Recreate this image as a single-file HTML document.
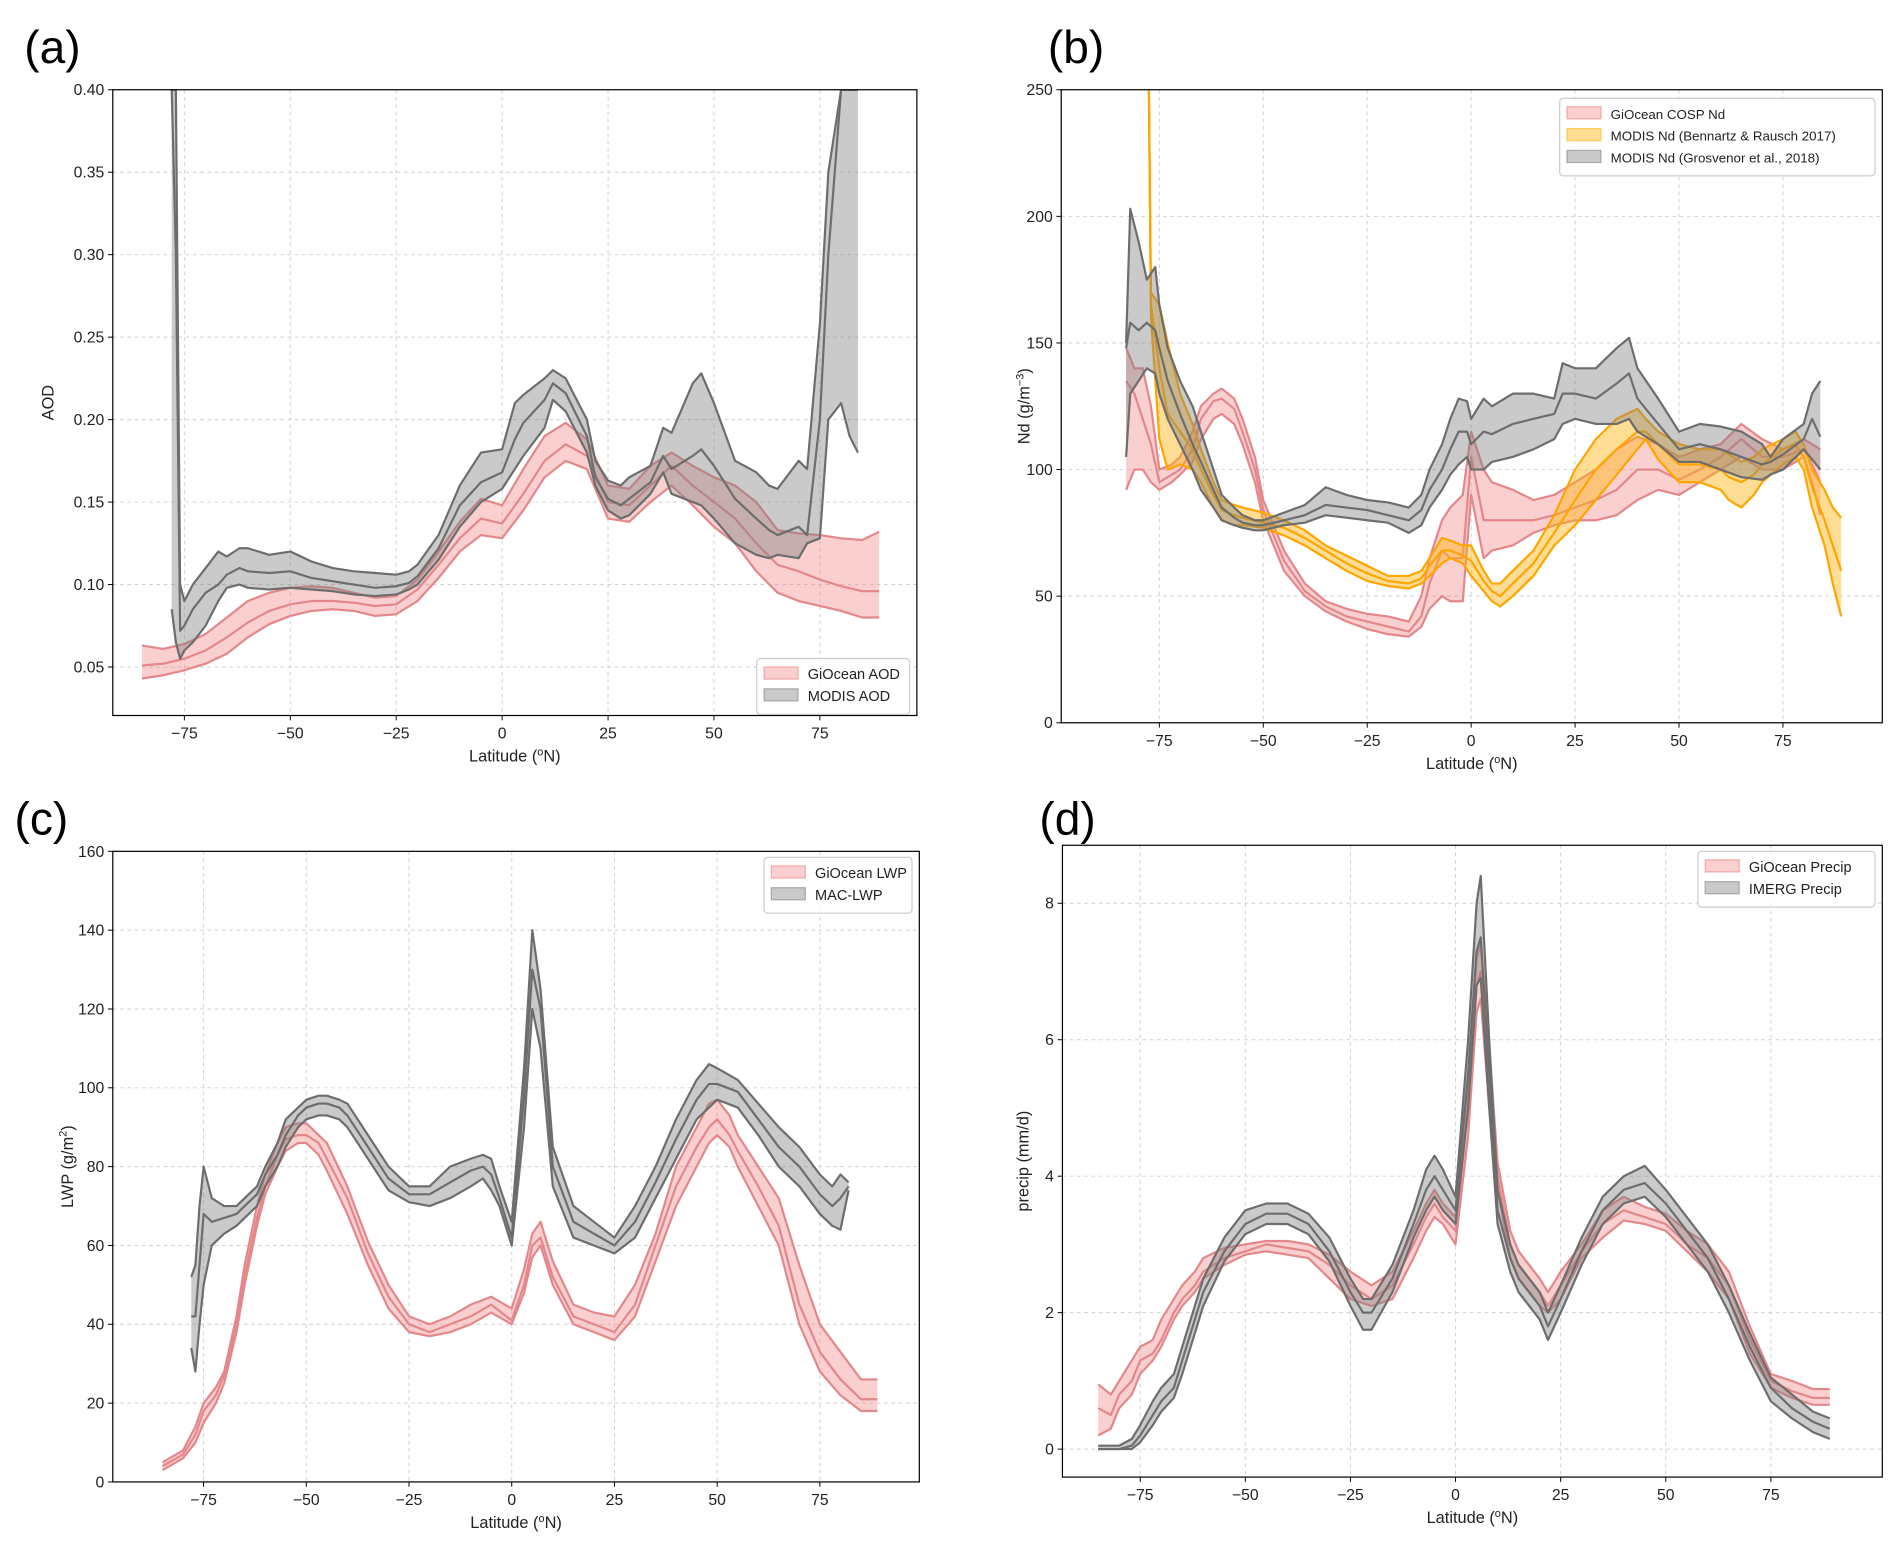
<!DOCTYPE html>
<html><head><meta charset="utf-8">
<style>
html,body{margin:0;padding:0;background:#fff;}
svg{display:block;font-family:"Liberation Sans","DejaVu Sans",sans-serif;}
</style></head>
<body>
<svg id="fig" width="1892" height="1545" viewBox="0 0 1560 1274" preserveAspectRatio="none" xmlns="http://www.w3.org/2000/svg">
<rect width="1560" height="1274" fill="#fff"/>
</svg>
<script>
// ---------- Panel (a) data ----------
const aTicksY = [0.05,0.10,0.15,0.20,0.25,0.30,0.35,0.40];
const aTickLabY = ["0.05","0.10","0.15","0.20","0.25","0.30","0.35","0.40"];
const latTicks = [-75,-50,-25,0,25,50,75];
const latTickLab = ["\u221275","\u221250","\u221225","0","25","50","75"];
const aGiLat = [-85,-80,-75,-70,-65,-60,-55,-50,-45,-40,-35,-30,-25,-20,-15,-10,-5,0,5,10,15,20,25,30,35,40,45,50,55,60,65,70,75,80,85,89];
const aGiMid = [.051,.052,.055,.060,.068,.077,.084,.088,.090,.090,.089,.087,.088,.097,.112,.128,.140,.137,.155,.175,.185,.178,.150,.148,.160,.172,.160,.150,.140,.125,.112,.108,.103,.099,.096,.096];
const aGiLo = [.043,.045,.048,.052,.058,.068,.076,.081,.084,.085,.084,.081,.082,.090,.104,.120,.130,.128,.145,.165,.175,.170,.140,.138,.150,.160,.148,.135,.125,.108,.095,.090,.087,.084,.080,.080];
const aGiHi = [.063,.061,.064,.070,.080,.090,.095,.098,.099,.098,.095,.092,.093,.103,.120,.138,.152,.148,.170,.190,.198,.188,.160,.158,.172,.180,.172,.165,.160,.150,.133,.131,.130,.128,.127,.132];
const aMoLat = [-78,-77,-76,-75,-73,-70,-67,-65,-62,-60,-55,-50,-45,-40,-35,-30,-25,-22,-20,-15,-10,-5,0,3,5,10,12,15,20,22,25,28,30,35,38,40,45,47,50,55,60,63,65,70,72,75,77,80,82,84];
const aMoMid = [.40,.30,.072,.075,.085,.095,.100,.106,.110,.108,.107,.108,.104,.102,.100,.098,.099,.101,.105,.122,.148,.162,.168,.188,.198,.212,.222,.216,.190,.165,.152,.148,.152,.162,.178,.170,.178,.182,.172,.152,.140,.133,.130,.135,.130,.200,.30,.40,.40,.40];
const aMoLo = [.085,.065,.055,.060,.065,.075,.090,.098,.100,.098,.097,.098,.097,.096,.094,.093,.094,.097,.100,.115,.135,.150,.158,.170,.178,.195,.212,.205,.180,.160,.145,.140,.142,.155,.168,.155,.150,.148,.140,.125,.118,.116,.118,.116,.125,.128,.200,.210,.190,.180];
const aMoHi = [.40,.40,.100,.090,.100,.110,.120,.117,.122,.122,.118,.120,.114,.110,.108,.107,.106,.108,.112,.130,.160,.180,.182,.210,.215,.225,.230,.225,.200,.175,.163,.160,.165,.172,.195,.192,.222,.228,.210,.175,.168,.160,.158,.175,.170,.258,.350,.400,.400,.400];

// ---------- Panel (b) data ----------
const bTicksY = [0,50,100,150,200,250];
const bGiLat = [-83,-81,-79,-77,-75,-72,-70,-67,-65,-62,-60,-57,-55,-52,-50,-45,-40,-35,-30,-25,-20,-15,-12,-10,-7,-5,-2,0,3,5,10,15,20,25,30,35,40,45,50,55,60,65,70,75,80,82,84];
const bGiMid = [135,130,120,110,95,98,100,108,120,127,128,124,115,100,84,64,52,46,42,40,38,36,42,55,68,65,65,105,80,80,80,80,82,85,88,92,100,100,96,100,105,112,105,105,108,102,95];
const bGiLo = [92,100,100,95,92,95,98,103,112,120,122,118,110,95,80,60,50,44,40,37,35,34,38,45,50,48,48,90,65,68,70,75,78,80,80,82,88,92,90,95,100,105,100,100,105,95,82];
const bGiHi = [148,140,140,125,100,102,105,115,125,130,132,128,120,105,88,68,55,48,45,43,42,40,50,65,80,85,90,115,100,95,92,88,90,95,100,108,113,110,105,108,110,118,112,108,112,110,108];
const bBrLat = [-77.5,-77,-75,-73,-70,-67,-65,-62,-60,-57,-55,-50,-45,-40,-35,-30,-25,-20,-15,-12,-10,-7,-5,-2,0,3,5,7,10,15,20,25,30,35,40,42,45,50,55,60,62,65,68,70,75,78,80,82,85,87,89];
const bBrMid = [250,165,140,122,115,108,100,90,84,82,81,79,77,73,68,63,59,56,55,57,62,68,68,66,64,56,52,50,55,63,75,88,100,108,115,115,110,102,102,100,97,95,98,102,108,110,105,93,80,70,60];
const bBrLo = [250,160,112,100,102,100,95,85,80,78,78,77,74,70,65,60,56,54,53,55,58,63,65,63,58,52,48,46,50,58,70,78,88,98,108,112,104,95,95,92,88,85,90,95,102,105,100,85,70,55,42];
const bBrHi = [250,170,165,150,130,118,108,95,88,86,85,83,80,76,70,66,62,58,58,60,65,73,72,70,70,60,55,55,60,68,82,100,112,120,124,120,115,110,108,108,106,103,105,108,112,115,110,100,92,85,81];
const bGrLat = [-83,-82,-80,-78,-76,-75,-73,-70,-67,-65,-62,-60,-57,-55,-52,-50,-45,-40,-35,-30,-25,-20,-15,-12,-10,-7,-5,-3,-1,0,3,5,10,15,20,22,25,30,35,38,40,45,50,55,60,65,70,72,75,80,82,84];
const bGrMid = [148,158,155,158,155,148,135,122,110,103,92,85,81,79,78,78,80,82,86,85,84,82,80,84,92,100,108,115,115,110,115,114,118,120,122,130,130,128,134,138,128,118,108,110,108,105,102,103,106,112,120,113];
const bGrLo = [105,130,135,140,138,130,120,110,100,92,85,80,78,77,76,76,78,79,82,81,80,79,75,78,85,92,98,102,105,100,100,103,105,108,112,118,120,118,118,120,115,110,103,103,100,97,96,98,100,108,104,100];
const bGrHi = [150,203,190,175,180,165,148,135,125,115,100,90,85,82,80,80,83,86,93,90,88,87,85,90,100,110,120,128,127,120,128,125,130,130,128,142,140,140,148,152,140,128,115,118,117,115,110,105,112,118,130,135];

// ---------- Panel (c) data ----------
const cTicksY = [0,20,40,60,80,100,120,140,160];
const cGiLat = [-85,-80,-77,-75,-72,-70,-67,-65,-62,-60,-57,-55,-52,-50,-47,-45,-40,-35,-30,-25,-20,-15,-10,-5,0,3,5,7,10,15,20,25,30,35,40,45,48,50,53,55,60,65,70,75,80,85,89];
const cGiMid = [4,7,12,18,22,27,40,52,67,75,83,87,88,88,86,82,72,58,47,40,38,40,42,45,41,50,60,62,52,42,40,38,45,60,75,85,90,92,88,84,75,65,45,33,26,21,21];
const cGiLo = [3,6,10,15,20,25,38,50,65,73,80,84,86,86,83,79,68,55,44,38,37,38,40,43,40,48,57,60,50,40,38,36,42,56,70,80,86,88,85,80,70,60,40,28,22,18,18];
const cGiHi = [5,8,14,20,24,28,42,55,70,78,86,90,91,91,88,86,75,61,50,42,40,42,45,47,44,54,63,66,56,45,43,42,50,63,80,90,96,97,93,88,80,72,55,40,33,26,26];
const cMaLat = [-78,-77,-76,-75,-73,-70,-67,-65,-62,-60,-57,-55,-52,-50,-47,-45,-42,-40,-35,-30,-25,-20,-15,-10,-7,-5,-3,0,3,5,7,10,15,20,25,30,35,40,45,48,50,55,60,65,70,75,78,80,82];
const cMaMid = [42,42,55,68,66,67,68,70,73,78,83,88,93,95,96,96,95,93,85,77,73,73,76,79,80,78,72,62,98,130,120,80,66,63,60,66,76,87,97,101,101,99,92,85,80,73,70,72,75];
const cMaLo = [34,28,40,50,60,63,65,67,70,75,80,85,90,92,93,93,92,90,82,74,71,70,72,75,77,74,70,60,90,120,110,75,62,60,58,62,72,82,92,95,97,95,88,80,75,68,65,64,74];
const cMaHi = [52,55,70,80,72,70,70,72,75,80,86,92,95,97,98,98,97,96,88,80,75,75,80,82,83,82,75,66,105,140,125,85,70,66,62,70,80,92,102,106,105,102,96,90,85,78,75,78,76];

// ---------- Panel (d) data ----------
const dTicksY = [0,2,4,6,8];
const dGiLat = [-85,-82,-80,-77,-75,-72,-70,-67,-65,-62,-60,-55,-50,-45,-40,-35,-30,-25,-20,-15,-10,-7,-5,-3,0,3,5,6,8,10,13,15,20,22,25,30,35,40,45,50,55,60,65,70,75,80,85,89];
const dGiMid = [0.6,0.5,0.8,1.0,1.3,1.4,1.6,2.0,2.2,2.4,2.6,2.8,2.9,3.0,2.95,2.9,2.7,2.4,2.2,2.4,3.0,3.4,3.6,3.4,3.2,5.0,6.8,7.0,5.5,4.0,3.0,2.7,2.3,2.1,2.4,2.9,3.3,3.5,3.4,3.3,3.0,2.8,2.4,1.6,1.0,0.85,0.75,0.75];
const dGiLo = [0.2,0.3,0.6,0.8,1.1,1.3,1.5,1.9,2.1,2.3,2.5,2.7,2.85,2.9,2.85,2.8,2.5,2.2,2.1,2.2,2.8,3.2,3.4,3.3,3.0,4.6,6.4,6.6,5.0,3.8,2.8,2.5,2.1,2.0,2.2,2.8,3.1,3.35,3.3,3.2,2.9,2.6,2.2,1.4,0.9,0.75,0.65,0.65];
const dGiHi = [0.95,0.8,1.0,1.3,1.5,1.6,1.9,2.2,2.4,2.6,2.8,2.95,3.0,3.05,3.05,3.0,2.85,2.6,2.4,2.6,3.2,3.6,3.8,3.6,3.4,5.4,7.2,7.4,5.9,4.2,3.2,2.9,2.5,2.3,2.6,3.0,3.5,3.7,3.55,3.45,3.2,3.0,2.6,1.8,1.1,1.0,0.88,0.88];
const dImLat = [-85,-80,-77,-75,-72,-70,-67,-65,-62,-60,-55,-50,-45,-40,-35,-30,-25,-22,-20,-15,-10,-7,-5,-3,0,3,5,6,8,10,13,15,20,22,25,30,35,40,45,50,55,60,65,70,75,80,85,89];
const dImMid = [0,0,0.05,0.2,0.5,0.7,0.9,1.3,1.9,2.3,2.9,3.3,3.45,3.45,3.3,2.9,2.3,2.0,2.0,2.5,3.3,3.8,4.0,3.8,3.5,5.5,7.3,7.5,5.5,3.5,2.8,2.5,2.1,1.8,2.2,2.9,3.5,3.8,3.9,3.6,3.2,2.8,2.2,1.5,0.9,0.6,0.4,0.3];
const dImLo = [0,0,0,0.1,0.35,0.55,0.75,1.1,1.7,2.1,2.75,3.15,3.3,3.3,3.15,2.75,2.1,1.75,1.75,2.3,3.1,3.5,3.7,3.5,3.3,5.0,6.8,6.9,5.0,3.3,2.6,2.3,1.9,1.6,2.0,2.7,3.3,3.6,3.7,3.4,3.0,2.6,2.0,1.3,0.7,0.45,0.25,0.15];
const dImHi = [0.05,0.05,0.15,0.35,0.7,0.9,1.1,1.5,2.1,2.5,3.1,3.5,3.6,3.6,3.45,3.1,2.5,2.2,2.2,2.7,3.5,4.1,4.3,4.1,3.7,6.0,8.0,8.4,6.0,3.8,3.0,2.7,2.3,2.0,2.4,3.1,3.7,4.0,4.15,3.8,3.4,3.0,2.4,1.7,1.05,0.8,0.55,0.45];

// ---------- drawing ----------
const NS = "http://www.w3.org/2000/svg";
const svg = document.getElementById("fig");
const PINK = {line:"#e3878b", fill:"rgba(240,128,128,0.38)"};
const GRAY = {line:"#6d6d6d", fill:"rgba(128,128,128,0.42)"};
const ORNG = {line:"#ffa500", fill:"rgba(255,180,20,0.45)"};

function mk(tag, attrs, parent){
  const e = document.createElementNS(NS, tag);
  for (const k in attrs) e.setAttribute(k, attrs[k]);
  (parent || svg).appendChild(e);
  return e;
}

function makePanel(cfg){
  const g = mk("g", {});
  
  
  const sx = v => cfg.L + (v - cfg.x0) / (cfg.x1 - cfg.x0) * (cfg.R - cfg.L);
  const sy = v => cfg.B - (v - cfg.y0) / (cfg.y1 - cfg.y0) * (cfg.B - cfg.T);
  const clipId = "clip-" + cfg.name;
  const cp = mk("clipPath", {id: clipId}, g);
  mk("rect", {x: cfg.L, y: cfg.T, width: cfg.R - cfg.L, height: cfg.B - cfg.T}, cp);

  const lab = mk("text", {x: cfg.labX, y: cfg.labY, "font-size": 38, fill: "#000"}, g);
  lab.textContent = cfg.letter;
  
  

  cfg.yTicks.forEach((v, i) => {
    const y = sy(v);
    const gl = mk("line", {x1: cfg.L, x2: cfg.R, y1: y, y2: y, stroke: "#d0d0d0", "stroke-width": 0.8, "stroke-dasharray": "3,3"}, g);
    
    
    mk("line", {x1: cfg.L - 4, x2: cfg.L, y1: y, y2: y, stroke: "#000", "stroke-width": 0.8}, g);
    const t = mk("text", {x: cfg.L - 7, y: y + 4.5, "font-size": 13, "text-anchor": "end", fill: "#222"}, g);
    t.textContent = cfg.yLabels[i];
    
    
  });
  latTicks.forEach((v, i) => {
    const x = sx(v);
    const gl = mk("line", {x1: x, x2: x, y1: cfg.T, y2: cfg.B, stroke: "#d0d0d0", "stroke-width": 0.8, "stroke-dasharray": "3,3"}, g);
    
    
    mk("line", {x1: x, x2: x, y1: cfg.B, y2: cfg.B + 4, stroke: "#000", "stroke-width": 0.8}, g);
    const t = mk("text", {x: x, y: cfg.B + 19, "font-size": 13, "text-anchor": "middle", fill: "#222"}, g);
    t.textContent = latTickLab[i];
    
    
  });

  const pg = mk("g", {"clip-path": "url(#" + clipId + ")"}, g);
  cfg.series.forEach(s => {
    const up = s.lat.map((v, i) => sx(v).toFixed(1) + "," + sy(s.hi[i]).toFixed(1));
    const dn = s.lat.map((v, i) => sx(v).toFixed(1) + "," + sy(s.lo[i]).toFixed(1)).reverse();
    const band = mk("polygon", {points: up.concat(dn).join(" "), fill: s.col.fill, stroke: "none"}, pg);
    
    
    [["lo", s.lo], ["hi", s.hi], ["mean", s.mid]].forEach(([nm, arr]) => {
      const pts = s.lat.map((v, i) => sx(v).toFixed(1) + "," + sy(arr[i]).toFixed(1)).join(" ");
      const pl = mk("polyline", {points: pts, fill: "none", stroke: s.col.line, "stroke-width": 1.8, "stroke-linejoin": "round"}, pg);
      
      
    });
  });

  const fr = mk("rect", {x: cfg.L, y: cfg.T, width: cfg.R - cfg.L, height: cfg.B - cfg.T, fill: "none", stroke: "#000", "stroke-width": 1}, g);
  
  

  const xl = mk("text", {x: (cfg.L + cfg.R) / 2, y: cfg.B + 38, "font-size": 13.5, "text-anchor": "middle", fill: "#222"}, g);
  xl.innerHTML = 'Latitude (<tspan font-size="9" dy="-5">o</tspan><tspan dy="5">N)</tspan>';
  
  
  const yl = mk("text", {x: 0, y: 0, "font-size": 13.5, "text-anchor": "middle", fill: "#222", transform: "translate(" + cfg.yLabX + "," + (cfg.T + cfg.B) / 2 + ") rotate(-90)"}, g);
  yl.innerHTML = cfg.yTitle;
  
  

  const lg = mk("g", {}, g);
  
  
  mk("rect", {x: cfg.legX, y: cfg.legY, width: cfg.legW, height: 10 + 18 * cfg.series.length, rx: 3, fill: "rgba(255,255,255,0.85)", stroke: "#ccc", "stroke-width": 1}, lg);
  cfg.series.forEach((s, i) => {
    const ey = cfg.legY + 7 + 18 * i;
    const sw = mk("rect", {x: cfg.legX + 6, y: ey, width: 28, height: 10, fill: s.col.fill, stroke: s.col.fill.replace(/[\d.]+\)$/, "0.6)"), "stroke-width": 1}, lg);
    
    
    const t = mk("text", {x: cfg.legX + 42, y: ey + 10, "font-size": cfg.legFont || 12, fill: "#222"}, lg);
    t.textContent = s.label;
    
    
  });
}

makePanel({name: "panel-a", letter: "(a)", labX: 20, labY: 52, L: 93, R: 756, T: 74, B: 590,
  x0: -91.9, x1: 97.9, y0: 0.0206, y1: 0.40, yTicks: aTicksY, yLabels: aTickLabY,
  yLabX: 44, yTitle: "AOD", legX: 624, legY: 543, legW: 126,
  series: [
    {name: "giocean-aod", label: "GiOcean AOD", col: PINK, lat: aGiLat, mid: aGiMid, lo: aGiLo, hi: aGiHi},
    {name: "modis-aod", label: "MODIS AOD", col: GRAY, lat: aMoLat, mid: aMoMid, lo: aMoLo, hi: aMoHi}
  ]});

makePanel({name: "panel-b", letter: "(b)", labX: 864, labY: 52, L: 875, R: 1552, T: 74, B: 596,
  x0: -98.6, x1: 98.9, y0: 0, y1: 250, yTicks: bTicksY, yLabels: bTicksY.map(String),
  yLabX: 849, yTitle: 'Nd (g/m<tspan font-size="9" dy="-5">\u22123</tspan><tspan dy="5">)</tspan>', legX: 1286, legY: 81, legW: 260, legFont: 11,
  series: [
    {name: "giocean-cosp-nd", label: "GiOcean COSP Nd", col: PINK, lat: bGiLat, mid: bGiMid, lo: bGiLo, hi: bGiHi},
    {name: "modis-nd-bennartz", label: "MODIS Nd (Bennartz & Rausch 2017)", col: ORNG, lat: bBrLat, mid: bBrMid, lo: bBrLo, hi: bBrHi},
    {name: "modis-nd-grosvenor", label: "MODIS Nd (Grosvenor et al., 2018)", col: GRAY, lat: bGrLat, mid: bGrMid, lo: bGrLo, hi: bGrHi}
  ]});

makePanel({name: "panel-c", letter: "(c)", labX: 12, labY: 688, L: 93, R: 758, T: 702, B: 1222,
  x0: -97.1, x1: 99.2, y0: 0, y1: 160, yTicks: cTicksY, yLabels: cTicksY.map(String),
  yLabX: 60, yTitle: 'LWP (g/m<tspan font-size="9" dy="-5">2</tspan><tspan dy="5">)</tspan>', legX: 630, legY: 707, legW: 122,
  series: [
    {name: "giocean-lwp", label: "GiOcean LWP", col: PINK, lat: cGiLat, mid: cGiMid, lo: cGiLo, hi: cGiHi},
    {name: "mac-lwp", label: "MAC-LWP", col: GRAY, lat: cMaLat, mid: cMaMid, lo: cMaLo, hi: cMaHi}
  ]});

makePanel({name: "panel-d", letter: "(d)", labX: 857, labY: 688, L: 876, R: 1552, T: 697, B: 1218,
  x0: -93.5, x1: 101.5, y0: -0.41, y1: 8.85, yTicks: dTicksY, yLabels: dTicksY.map(String),
  yLabX: 848, yTitle: "precip (mm/d)", legX: 1400, legY: 702, legW: 146,
  series: [
    {name: "giocean-precip", label: "GiOcean Precip", col: PINK, lat: dGiLat, mid: dGiMid, lo: dGiLo, hi: dGiHi},
    {name: "imerg-precip", label: "IMERG Precip", col: GRAY, lat: dImLat, mid: dImMid, lo: dImLo, hi: dImHi}
  ]});
</script>
</body></html>
